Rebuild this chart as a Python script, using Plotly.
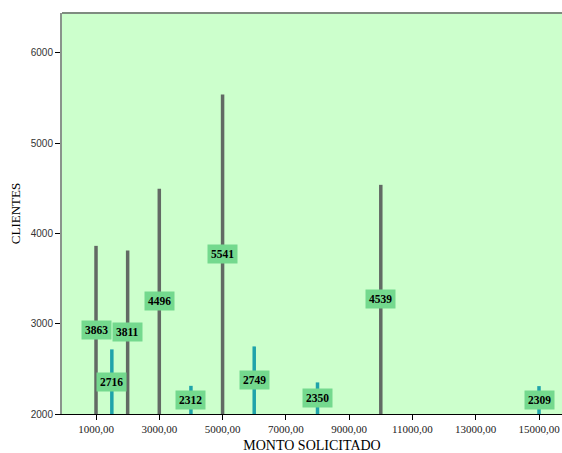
import plotly.graph_objects as go

# Data
dark_x = [1000, 2000, 3000, 5000, 10000]
dark_y = [3863, 3811, 4496, 5541, 4539]
teal_x = [1500, 4000, 6000, 8000, 15000]
teal_y = [2716, 2312, 2749, 2350, 2309]

x_ticks = [1000, 3000, 5000, 7000, 9000, 11000, 13000, 15000]
x_ticklabels = ["1000,00", "3000,00", "5000,00", "7000,00", "9000,00", "11000,00", "13000,00", "15000,00"]
y_ticks = [2000, 3000, 4000, 5000, 6000]

Y_MIN, Y_MAX = 2000, 6443
X_MIN, X_MAX = -75, 15727

fig = go.Figure()

def add_group(xs, ys, color):
    lx, ly = [], []
    for x, y in zip(xs, ys):
        lx += [x, x, None]
        ly += [Y_MIN, y, None]
    fig.add_trace(go.Scatter(x=lx, y=ly, mode="lines",
                             line=dict(color=color, width=3.5),
                             hoverinfo="skip", showlegend=False))
    for x, y in zip(xs, ys):
        fig.add_annotation(x=x, y=(Y_MIN + y) / 2, text=f"<b>{y}</b>",
                           showarrow=False, bgcolor="#74d98e",
                           borderpad=3,
                           font=dict(family="Liberation Serif", size=11.5, color="black"))

add_group(dark_x, dark_y, "#626a64")
add_group(teal_x, teal_y, "#1fa3aa")

fig.update_layout(
    width=562, height=453,
    margin=dict(l=62, r=0, t=13, b=39),
    paper_bgcolor="white",
    plot_bgcolor="#ccffcc",
    showlegend=False,
    xaxis=dict(range=[X_MIN, X_MAX], tickmode="array", tickvals=x_ticks,
               ticktext=x_ticklabels, ticks="outside", ticklen=5,
               tickcolor="black", showgrid=False, zeroline=False,
               showline=True, linecolor="black", linewidth=1,
               tickfont=dict(family="Liberation Serif", size=11, color="#222"),
               title=dict(text="MONTO SOLICITADO", standoff=6,
                          font=dict(family="Liberation Serif", size=14, color="black"))),
    yaxis=dict(range=[Y_MIN, Y_MAX], tickmode="array", tickvals=y_ticks,
               ticks="outside", ticklen=5, tickcolor="black",
               showgrid=False, zeroline=False,
               showline=True, linecolor="#8a948c", linewidth=2,
               tickfont=dict(family="Liberation Sans Narrow, Liberation Sans", size=10, color="#333"),
               title=dict(text="CLIENTES", standoff=7,
                          font=dict(family="Liberation Serif", size=13, color="black"))),
)

# top frame line
fig.add_shape(type="line", xref="paper", yref="paper", x0=0, x1=1, y0=1, y1=1,
              line=dict(color="#7f8c80", width=2))

fig.write_html("out.html")
